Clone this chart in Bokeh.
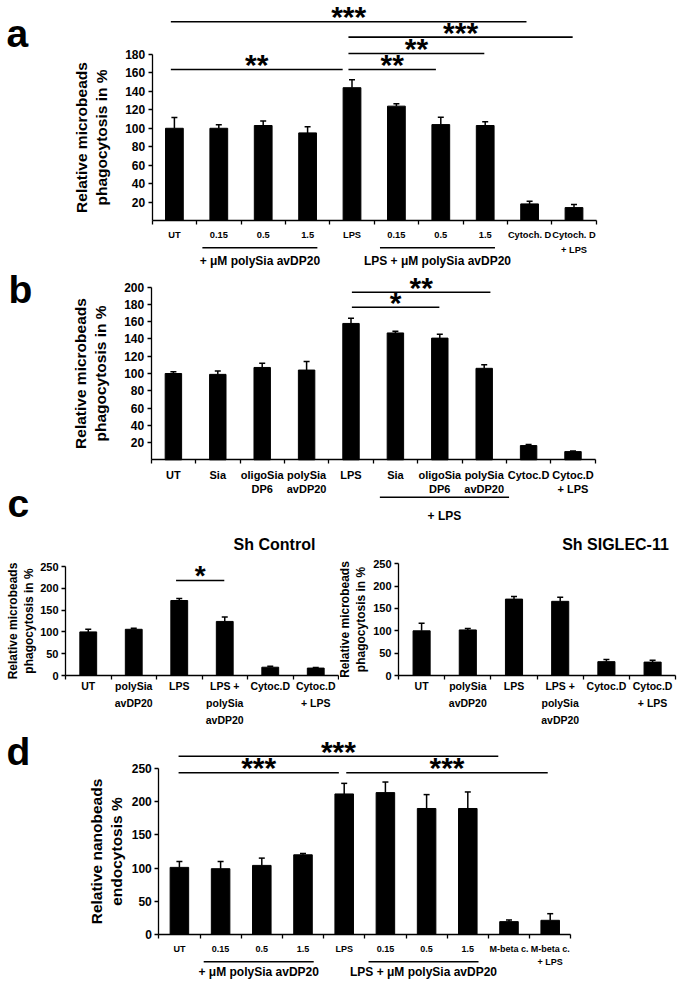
from bokeh.plotting import figure
from bokeh.models import Range1d, LinearAxis, FixedTicker
from bokeh.layouts import column, row
from bokeh.embed import file_html
from bokeh.resources import INLINE
from bokeh.core.properties import value

# ---------------- data ----------------
a_labels = ["UT", "0.15", "0.5", "1.5", "LPS", "0.15", "0.5", "1.5", "Cytoch. D", "Cytoch. D\n+ LPS"]
a_values = [100, 100, 103, 95, 144, 124, 104, 103, 18, 14]
a_errors = [11.7, 3.8, 5, 6.6, 8.6, 2.6, 8, 4, 3, 3.3]
a_yticks = [20, 40, 60, 80, 100, 120, 140, 160, 180]
a_sig_from = [0.92, 4.92, 4.92, 0.92, 4.92]
a_sig_to = [8.93, 9.97, 7.98, 4.79, 6.89]
a_sig_level = [215.5, 198.8, 181.1, 163.7, 163.7]
a_sig_stars = ["***", "***", "**", "**", "**"]
a_group_names = ["+ \u03bcM polySia avDP20", "LPS + \u03bcM polySia avDP20"]
a_group_first = [2, 6]
a_group_last = [4, 8]

b_labels = ["UT", "Sia", "oligoSia\nDP6", "polySia\navDP20", "LPS", "Sia",
            "oligoSia\nDP6", "polySia\navDP20", "Cytoc.D", "Cytoc.D\n+ LPS"]
b_values = [100, 99, 107, 104, 158, 147, 141, 106, 16.5, 9.5]
b_errors = [2, 4, 5, 10, 6, 2, 4.5, 4, 1.2, 0.8]
b_yticks = [20, 40, 60, 80, 100, 120, 140, 160, 180, 200]
b_sig_from = [5.02, 5.02]
b_sig_to = [8.14, 6.99]
b_sig_level = [194.2, 176.8]
b_sig_stars = ["**", "*"]
b_group_names = ["+ LPS"]
b_group_first = [6]
b_group_last = [8]

c_labels = ["UT", "polySia\navDP20", "LPS", "LPS +\npolySia\navDP20", "Cytoc.D", "Cytoc.D\n+ LPS"]
c_yticks = [0, 50, 100, 150, 200, 250]
cl_values = [100, 106, 172, 124, 19, 17]
cl_errors = [6, 2.5, 4.5, 10, 2.5, 1.5]
cl_sig_from = [2.93]
cl_sig_to = [3.99]
cl_sig_level = [217.9]
cl_sig_stars = ["*"]
cr_values = [100, 102, 171, 166, 31, 30]
cr_errors = [17, 3, 6, 9, 5, 4]

d_labels = ["UT", "0.15", "0.5", "1.5", "LPS", "0.15", "0.5", "1.5", "M-beta c.", "M-beta c.\n+ LPS"]
d_values = [101, 99, 104, 120, 212, 214, 190, 190, 19, 21]
d_errors = [9, 11, 11, 2, 16, 16, 21, 25, 2.5, 10]
d_yticks = [0, 50, 100, 150, 200, 250]
d_sig_from = [0.98, 0.98, 5.05]
d_sig_to = [8.74, 4.87, 9.94]
d_sig_level = [269, 244, 244]
d_sig_stars = ["***", "***", "***"]
d_group_names = ["+ \u03bcM polySia avDP20", "LPS + \u03bcM polySia avDP20"]
d_group_first = [2, 6]
d_group_last = [4, 8]

ylab_micro = "Relative microbeads\nphagocytosis in %"
ylab_nano = "Relative nanobeads\nendocytosis %"

FONT = "Liberation Sans"


def make_panel(labels, values, errors, yticks, ylabel, g, st):
    n = len(labels)
    kx = 1.0 / g["cat"]
    ky = g["ymax"] / (g["y0"] - g["y1"])

    def X(px):
        return 0.5 + (px - g["ax"]) * kx

    def Y(py):
        return (g["y0"] - py) * ky

    p = figure(width=g["W"], height=g["H"],
               x_range=Range1d(X(g["rx0"]), X(g["rx0"] + g["W"])),
               y_range=Range1d(Y(g["ry0"] + g["H"]), Y(g["ry0"])),
               output_backend="svg", toolbar_location=None,
               x_axis_location=None, y_axis_location=None,
               min_border=0, outline_line_color=None,
               background_fill_color="white", border_fill_color="white")
    p.xgrid.visible = False
    p.ygrid.visible = False

    yax = LinearAxis(fixed_location=0.5, bounds=(0, yticks[-1]),
                     ticker=FixedTicker(ticks=yticks, minor_ticks=[]),
                     axis_line_width=1.3, axis_line_color="black",
                     major_tick_line_width=1.3, major_tick_line_color="black",
                     major_tick_in=0, major_tick_out=4,
                     minor_tick_line_color=None,
                     major_label_text_font=FONT, major_label_text_font_size=st["tick_size"],
                     major_label_text_font_style="bold", major_label_text_color="black",
                     major_label_standoff=3,
                     axis_label=ylabel, axis_label_text_font=FONT,
                     axis_label_text_font_size=st["ylab_size"],
                     axis_label_text_font_style="bold", axis_label_text_color="black",
                     axis_label_text_line_height=st.get("ylab_lh", 1.2),
                     axis_label_standoff=st["ylab_standoff"])
    p.add_layout(yax, "left")

    xs = list(range(1, n + 1))
    xax = LinearAxis(fixed_location=0, bounds=(0.5, n + 0.5),
                     ticker=FixedTicker(ticks=xs, minor_ticks=[i + 0.5 for i in range(n + 1)]),
                     major_label_overrides={i + 1: lab for i, lab in enumerate(labels)},
                     axis_line_width=1.3, axis_line_color="black",
                     major_tick_line_color=None, major_tick_in=0, major_tick_out=0,
                     minor_tick_line_color="black", minor_tick_line_width=1.3,
                     minor_tick_in=0, minor_tick_out=4,
                     major_label_text_font=FONT, major_label_text_font_size=st["cat_size"],
                     major_label_text_font_style="bold", major_label_text_color="black",
                     major_label_text_line_height=st["line_h"],
                     major_label_standoff=st["cat_standoff"])
    p.add_layout(xax, "below")

    tops = [v + e for v, e in zip(values, errors)]
    p.vbar(x=xs, top=values, bottom=0, width=st["bar_w"], color="black")
    p.segment(x0=xs, y0=values, x1=xs, y1=tops, line_color="black", line_width=1.5)
    cw = 3.0 / g["cat"]
    p.segment(x0=[x - cw for x in xs], y0=tops, x1=[x + cw for x in xs], y1=tops,
              line_color="black", line_width=1.5)
    return p, X, Y


def add_brackets(p, sfrom, sto, level, stars, size, off):
    p.segment(x0=sfrom, y0=level, x1=sto, y1=level, line_color="black", line_width=1.6)
    p.text(x=[(a + b) / 2 for a, b in zip(sfrom, sto)], y=level, text=stars,
           text_align="center", text_baseline="middle", y_offset=off,
           text_font=value(FONT), text_font_style="bold", text_font_size=size, text_color="black")


def add_groups(p, Y, names, first, last, pad_l, pad_r, line_py, label_py):
    x0 = [f - pad_l for f in first]
    x1 = [l + pad_r for l in last]
    p.segment(x0=x0, y0=[Y(line_py)] * len(names), x1=x1, y1=[Y(line_py)] * len(names),
              line_color="black", line_width=1.4)
    p.text(x=[(a + b) / 2 for a, b in zip(x0, x1)], y=[Y(label_py)] * len(names), text=names,
           text_align="center", text_baseline="middle",
           text_font=value(FONT), text_font_style="bold", text_font_size="12px", text_color="black")


def add_text(p, X, Y, px, py, txt, size, align="left", baseline="middle"):
    p.text(x=[X(px)], y=[Y(py)], text=[txt], text_align=align, text_baseline=baseline,
           text_font=value(FONT), text_font_style="bold", text_font_size=size, text_color="black")


STAR_OFF = -5
LETTER = "39px"

# ---- panel a ----
sa = dict(tick_size="12px", cat_size="9.3px", ylab_size="15.5px", ylab_standoff=12,
          line_h=1.5, cat_standoff=5, bar_w=0.4)
ga = dict(W=685, H=268, rx0=0, ry0=0, ax=151.7, cat=44.4, y0=220, y1=54, ymax=180)
pa, Xa, Ya = make_panel(a_labels, a_values, a_errors, a_yticks, ylab_micro, ga, sa)
add_brackets(pa, a_sig_from, a_sig_to, a_sig_level, a_sig_stars, "30px", STAR_OFF)
add_groups(pa, Ya, a_group_names, a_group_first, a_group_last, 0.37, 0.22, 247.3, 260.5)
add_text(pa, Xa, Ya, 6, 33, "a", LETTER)

# ---- panel b ----
sb = dict(tick_size="12px", cat_size="11px", ylab_size="15.5px", ylab_standoff=12,
          line_h=1.2, cat_standoff=5, bar_w=0.37)
gb = dict(W=685, H=256, rx0=0, ry0=268, ax=150.7, cat=44.4, y0=459.3, y1=286.7, ymax=200)
pb, Xb, Yb = make_panel(b_labels, b_values, b_errors, b_yticks, ylab_micro, gb, sb)
add_brackets(pb, b_sig_from, b_sig_to, b_sig_level, b_sig_stars, "30px", STAR_OFF)
add_groups(pb, Yb, b_group_names, b_group_first, b_group_last, 0.35, 0.56, 496.7, 515)
add_text(pb, Xb, Yb, 8, 288.5, "b", LETTER)
add_text(pb, Xb, Yb, 7, 503, "c", LETTER)

# ---- panel c ----
sc = dict(tick_size="11px", cat_size="10.5px", ylab_size="12px", ylab_lh=1.15, ylab_standoff=1,
          line_h=1.45, cat_standoff=0, bar_w=0.37)
gcl = dict(W=339, H=202, rx0=0, ry0=524, ax=65, cat=45.5, y0=675, y1=566, ymax=250)
pcl, Xcl, Ycl = make_panel(c_labels, cl_values, cl_errors, c_yticks, ylab_micro, gcl, sc)
add_brackets(pcl, cl_sig_from, cl_sig_to, cl_sig_level, cl_sig_stars, "28px", STAR_OFF)
add_text(pcl, Xcl, Ycl, 274, 544, "Sh Control", "16px", align="center")

gcr = dict(W=346, H=202, rx0=339, ry0=524, ax=398, cat=46.2, y0=675, y1=563.3, ymax=250)
pcr, Xcr, Ycr = make_panel(c_labels, cr_values, cr_errors, c_yticks, ylab_micro, gcr,
                           dict(sc, ylab_standoff=2))
add_text(pcr, Xcr, Ycr, 615, 544, "Sh SIGLEC-11", "16px", align="center")

# ---- panel d ----
sd = dict(tick_size="12px", cat_size="9px", ylab_size="15.5px", ylab_standoff=3,
          line_h=1.3, cat_standoff=6, bar_w=0.45)
gd = dict(W=685, H=259, rx0=0, ry0=726, ax=158.3, cat=41.2, y0=933.7, y1=768.3, ymax=250)
pd_, Xd, Yd = make_panel(d_labels, d_values, d_errors, d_yticks, ylab_nano, gd, sd)
add_brackets(pd_, d_sig_from, d_sig_to, d_sig_level, d_sig_stars, "30px", STAR_OFF)
add_groups(pd_, Yd, d_group_names, d_group_first, d_group_last, 0.41, 0.26, 961.3, 971.3)
add_text(pd_, Xd, Yd, 6, 751, "d", LETTER)

layout = column(pa, pb, row(pcl, pcr), pd_)
open("out.html", "w").write(file_html(layout, INLINE))
